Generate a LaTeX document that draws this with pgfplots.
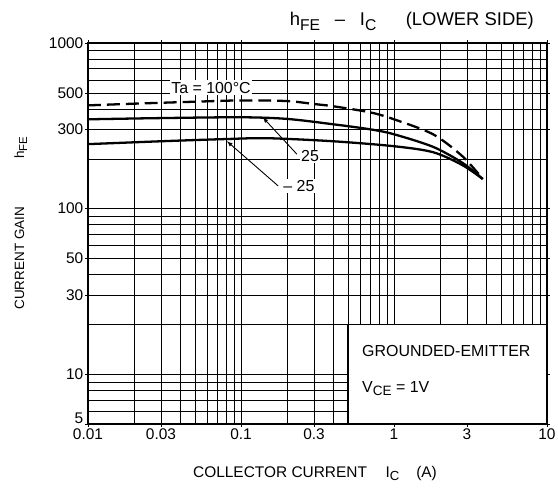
\documentclass[border=0pt]{standalone}
\usepackage{fontspec}
\setmainfont{Liberation Sans}
\usepackage{pgfplots}
\pgfplotsset{compat=1.18}
\newcommand{\sub}[1]{\raisebox{-0.45ex}{\fontsize{0.85em}{1em}\selectfont #1}}
\begin{document}
\begin{tikzpicture}[font=\fontsize{16}{19}\selectfont]
\useasboundingbox (0,0) rectangle (558bp,489bp);
\begin{axis}[
  at={(88bp,65bp)}, anchor=south west,
  scale only axis, width=459bp, height=381bp,
  xmode=log, ymode=log,
  xmin=0.01, xmax=10, ymin=5, ymax=1000,
  xtick={0.01,0.03,0.1,0.3,1,3,10},
  xticklabels={0.01,0.03,0.1,0.3,1,3,10},
  minor xtick={0.02,0.04,0.05,0.06,0.07,0.08,0.09,0.2,0.4,0.5,0.6,0.7,0.8,0.9,2,4,5,6,7,8,9},
  ytick={5,10,30,50,100,300,500,1000},
  yticklabels={\raisebox{0bp}[0pt][0pt]{5},10,30,50,100,300,500,1000},
  minor ytick={6,7,8,9,20,40,60,70,80,90,200,400,600,700,800,900},
  grid=both,
  major grid style={black, line width=0.5pt},
  minor grid style={black, line width=0.45pt},
  tick align=outside, major tick length=3bp, minor tick length=0pt,
  tick style={black, line width=0.5pt},
  axis line style={line width=1.4pt},
  ticklabel style={font=\fontsize{15.5}{18}\selectfont},
  xticklabel style={inner sep=1.5pt},
  yticklabel style={inner sep=1.5pt},
  /pgf/number format/assume math mode=true,
]
% Ta = 100 C (dashed)
\addplot[black, line width=2.3pt, smooth, dash pattern=on 13pt off 6pt] coordinates {
 (0.01,420) (0.02,430) (0.05,442) (0.1,450) (0.2,446) (0.3,428) (0.4,415) (0.7,381) (1,346) (1.8,281) (2.8,207) (3.8,151)};
% 25 C
\addplot[black, line width=2.3pt, smooth] coordinates {
 (0.01,346) (0.03,352) (0.1,356) (0.2,348) (0.4,323) (0.7,301) (1,281) (1.8,236) (2.8,189) (3.8,151)};
% -25 C
\addplot[black, line width=2.3pt, smooth] coordinates {
 (0.01,245) (0.03,255) (0.08,263) (0.15,266) (0.4,255) (1,238) (1.8,219) (2.8,183) (3.8,151)};

% annotations
\node[fill=white, inner sep=1.5pt] at (axis cs:0.0637,538) {Ta = 100°C};
\draw[-latex, line width=0.9pt] (axis cs:0.232,213) -- (axis cs:0.139,355);
\node[fill=white, inner sep=1pt, anchor=west] at (axis cs:0.243,207) {25};
\draw[-latex, line width=0.9pt] (axis cs:0.175,137) -- (axis cs:0.081,255);
\node[fill=white, inner sep=1pt, anchor=west] at (axis cs:0.186,137) {– 25};

% inset box
\draw[fill=white, line width=1.4pt] (axis cs:0.5,5) rectangle (axis cs:10,20);
\node[anchor=base west, inner sep=0pt] at (axis cs:0.618,12.8) {GROUNDED-EMITTER};
\node[anchor=base west, inner sep=0pt] at (axis cs:0.618,7.8) {V\sub{CE} = 1V};
\end{axis}
% title
\node[anchor=base east, inner sep=0pt, font=\fontsize{18.5}{22}\selectfont] at (534bp,463bp) {h\sub{FE}\hspace{0.8em}–\hspace{0.8em}I\sub{C}\hspace{1.6em}(LOWER SIDE)};
% x label
\node[anchor=base, inner sep=0pt, font=\fontsize{15.5}{18}\selectfont] at (315bp,12bp) {COLLECTOR CURRENT\hspace{1.2em}I\sub{C}\hspace{1.1em}(A)};
% y label
\node[rotate=90, anchor=base, inner sep=0pt, font=\fontsize{13.5}{16}\selectfont] at (24bp,266bp) {CURRENT GAIN\hspace{3.6em}h\sub{FE}};
\end{tikzpicture}
\end{document}
